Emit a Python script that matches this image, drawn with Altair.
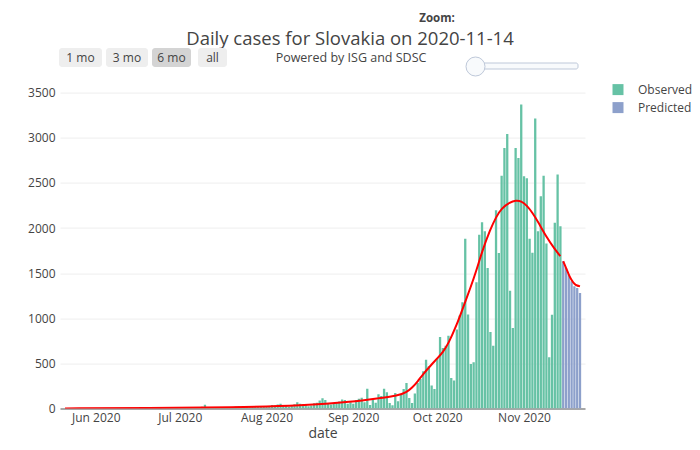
import altair as alt
import pandas as pd

# ---------------- data ----------------
may_cases = [1, 0, 2, 1, 0, 3, 1, 0, 2, 1, 0]  # May 21-31
jun_cases = [2, 0, 1, 3, 0, 2, 1, 0, 4, 2, 1, 0, 3, 5, 2, 1, 0, 4, 6, 2,
             3, 1, 5, 8, 3, 2, 6, 4, 3, 7]
jul_cases = [5, 8, 12, 15, 6, 4, 10, 9, 20, 44, 12, 8, 6, 10, 14, 18, 9, 12, 15, 10,
             22, 25, 18, 20, 24, 16, 28, 26, 30, 22, 25]
aug_cases = [30, 25, 40, 35, 45, 55, 38, 28, 20, 32, 48, 70, 55, 50, 42, 25, 35, 60, 65, 90,
             115, 95, 60, 45, 55, 70, 80, 100, 95, 55, 70]
sep_cases = [55, 95, 110, 120, 70, 220, 40, 95, 65, 160, 140, 221, 180, 63, 37, 173, 81, 155, 218, 284,
             118, 63, 166, 284, 328, 413, 542, 469, 255, 218]
oct_cases = [561, 793, 672, 697, 808, 339, 310, 875, 1030, 1177, 1882, 1041, 494, 513, 1399, 1926,
             2063, 1963, 1557, 849, 697, 2196, 1723, 2579, 2886, 3041, 1306, 893, 2886, 2775, 3368]
nov_cases = [2574, 2550, 1880, 1725, 3213, 1965, 2352, 2580, 1828, 570, 1040, 2057, 2592, 2020]
predicted_cases = [1632, 1558, 1485, 1411, 1355, 1337, 1281]  # Nov 15-21

observed_start = "2020-05-21"
predicted_start = "2020-11-15"

obs_line_dates = ["2020-05-21", "2020-06-20", "2020-07-20", "2020-08-14", "2020-09-01", "2020-09-10",
                  "2020-09-17", "2020-09-20", "2020-09-22", "2020-09-24", "2020-09-26", "2020-09-29",
                  "2020-10-01", "2020-10-03", "2020-10-05", "2020-10-08", "2020-10-10", "2020-10-13",
                  "2020-10-15", "2020-10-17", "2020-10-20", "2020-10-22", "2020-10-24", "2020-10-27",
                  "2020-10-29", "2020-10-31", "2020-11-02", "2020-11-04", "2020-11-06", "2020-11-09",
                  "2020-11-12", "2020-11-14"]
obs_line_values = [2, 5, 12, 33, 75, 115, 145, 180, 230, 300, 385, 490, 555, 625, 720, 930, 1100, 1350,
                   1530, 1740, 1990, 2120, 2220, 2285, 2305, 2300, 2250, 2170, 2070, 1900, 1765, 1688]
pred_line_dates = ["2020-11-15", "2020-11-16", "2020-11-17", "2020-11-18", "2020-11-19", "2020-11-20",
                   "2020-11-21"]
pred_line_values = [1632, 1560, 1482, 1420, 1380, 1362, 1355]

y_ticks = [0, 500, 1000, 1500, 2000, 2500, 3000, 3500]
series_names = ["Observed", "Predicted"]
series_colors = ["#66c2a5", "#8da0cb"]
button_labels = ["1 mo", "3 mo", "6 mo", "all"]
title_text = "Daily cases for Slovakia on 2020-11-14"
subtitle_text = "Powered by ISG and SDSC"

# ---------------- tables ----------------
observed = may_cases + jun_cases + jul_cases + aug_cases + sep_cases + oct_cases + nov_cases
obs_dates = pd.date_range(observed_start, periods=len(observed), freq="D")
pred_dates = pd.date_range(predicted_start, periods=len(predicted_cases), freq="D")

bars_df = pd.DataFrame({
    "date": [d.strftime("%Y-%m-%d") for d in obs_dates] + [d.strftime("%Y-%m-%d") for d in pred_dates],
    "cases": observed + predicted_cases,
    "type": ["Observed"] * len(observed) + ["Predicted"] * len(predicted_cases),
})
line_df = pd.DataFrame({
    "date": obs_line_dates + pred_line_dates,
    "cases": obs_line_values + pred_line_values,
    "segment": ["obs"] * len(obs_line_dates) + ["pred"] * len(pred_line_dates),
})

# ---------------- layout ----------------
W, H = 525, 319
PL, PT = 52, 81.6
PR = 684 - PL - W
PB = 434 - PT - H
FONT = "Open Sans"
TXT = "#444"

month_ticks = [alt.DateTime(year=2020, month=m, date=1, utc=True) for m in range(6, 12)]
x_enc = alt.X(
    "date:T",
    scale=alt.Scale(type="utc", nice=False,
                    domain=[alt.DateTime(year=2020, month=5, date=21, utc=True),
                            alt.DateTime(year=2020, month=11, date=21, utc=True)]),
    axis=alt.Axis(values=month_ticks, format="%b %Y", labelFont=FONT, labelFontSize=12,
                  labelColor=TXT, ticks=False, grid=False, domain=True, domainColor="#a8a8a8",
                  domainWidth=2, labelPadding=4, title="date", titleFont=FONT, titleFontSize=14,
                  titleColor=TXT, titleFontWeight="normal", titlePadding=3),
)
y_enc = alt.Y(
    "cases:Q",
    scale=alt.Scale(domain=[0, 3533], nice=False),
    axis=alt.Axis(values=y_ticks, format="d", labelFont=FONT, labelFontSize=12, labelColor=TXT,
                  ticks=False, domain=False, grid=True, gridColor="#eeeeee", gridWidth=1,
                  labelPadding=5, title=None),
)

bars = alt.Chart(bars_df).mark_bar(width=2.3, clip=True).encode(
    x=x_enc, y=y_enc,
    color=alt.Color("type:N",
                    scale=alt.Scale(domain=series_names, range=series_colors),
                    legend=alt.Legend(orient="none", legendX=552, legendY=-6, title=None,
                                      symbolType="square", symbolSize=121, symbolStrokeWidth=0,
                                      symbolOpacity=1, labelFont=FONT, labelFontSize=12,
                                      labelColor=TXT, labelOffset=14, rowPadding=6, padding=0)),
)

line = alt.Chart(line_df).mark_line(color="red", strokeWidth=2, interpolate="basis", clip=True).encode(
    x="date:T", y="cases:Q", detail="segment:N"
)

one = pd.DataFrame({"k": [0]})


def text_layer(txt, x, y, size, weight="normal"):
    return alt.Chart(one).mark_text(font=FONT, fontSize=size, fontWeight=weight, color=TXT,
                                    align="center", baseline="middle").encode(
        x=alt.value(x), y=alt.value(y), text=alt.value(txt))


def rect_layer(x1, x2, y1, y2, fill, stroke=None, radius=3):
    kw = dict(fill=fill, cornerRadius=radius)
    if stroke:
        kw.update(stroke=stroke, strokeWidth=1)
    return alt.Chart(one).mark_rect(**kw).encode(
        x=alt.value(x1), x2=alt.value(x2), y=alt.value(y1), y2=alt.value(y2))


OX, OY = 60, 89.6  # plot origin on the page
layers = [bars, line]
layers.append(text_layer(title_text, 350 - OX, 38.5 - OY, 18.5))
layers.append(text_layer("Zoom:", 437 - OX, 19 - OY, 11.5, "bold"))
layers.append(text_layer(subtitle_text, 351 - OX, 57.5 - OY, 12.5))

btn_boxes = [(59, 102), (106, 148), (152, 191), (198, 227)]
for label, (bx1, bx2) in zip(button_labels, btn_boxes):
    fill = "#d4d4d4" if label == "6 mo" else "#eeeeee"
    layers.append(rect_layer(bx1 - OX, bx2 - OX, 48 - OY, 67 - OY, fill))
    layers.append(text_layer(label, (bx1 + bx2) / 2 - OX, 58 - OY, 12))

# range slider
layers.append(rect_layer(475 - OX, 578 - OX, 63 - OY, 69 - OY, "#f8fafc", "#bec8d9", 2))
layers.append(alt.Chart(one).mark_point(shape="circle", filled=True, fill="#f8fafc", stroke="#bec8d9",
                                        strokeWidth=1, size=361, opacity=1).encode(
    x=alt.value(475.5 - OX), y=alt.value(66.5 - OY)))

chart = alt.layer(*layers).properties(
    width=W, height=H,
    autosize=alt.AutoSizeParams(type="none"),
    padding={"left": PL, "top": PT, "right": PR, "bottom": PB},
    background="white",
).configure_view(stroke=None)

chart.save("out.html", embed_options={"renderer": "svg", "actions": False})
